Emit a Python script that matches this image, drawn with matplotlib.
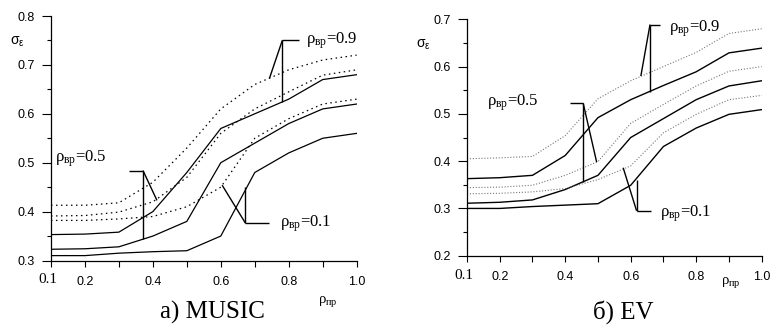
import matplotlib
matplotlib.use('Agg')
import matplotlib.pyplot as plt

plt.rcParams['mathtext.fontset'] = 'custom'
plt.rcParams['mathtext.rm'] = 'Liberation Serif'
plt.rcParams['mathtext.it'] = 'Liberation Serif'
plt.rcParams['mathtext.sf'] = 'Liberation Sans'
plt.rcParams['font.family'] = ['Liberation Sans', 'DejaVu Sans']

# rho_pr values
x = [0.1, 0.2, 0.3, 0.4, 0.5, 0.6, 0.7, 0.8, 0.9, 1.0]

# a) MUSIC
music_solid_hi = [0.353, 0.354, 0.358, 0.40, 0.48, 0.57, 0.60, 0.63, 0.67, 0.68]
music_solid_mid = [0.323, 0.324, 0.328, 0.35, 0.38, 0.50, 0.54, 0.58, 0.61, 0.62]
music_solid_lo = [0.31, 0.31, 0.315, 0.318, 0.32, 0.35, 0.48, 0.52, 0.55, 0.56]
music_dot_hi = [0.413, 0.413, 0.418, 0.46, 0.53, 0.61, 0.66, 0.69, 0.71, 0.72]
music_dot_mid = [0.391, 0.392, 0.399, 0.42, 0.47, 0.56, 0.61, 0.645, 0.679, 0.69]
music_dot_lo = [0.382, 0.382, 0.385, 0.39, 0.41, 0.45, 0.55, 0.59, 0.62, 0.63]

# б) EV
ev_solid_hi = [0.363, 0.365, 0.370, 0.412, 0.492, 0.53, 0.56, 0.589, 0.629, 0.639]
ev_solid_mid = [0.311, 0.313, 0.318, 0.34, 0.37, 0.45, 0.49, 0.53, 0.559, 0.57]
ev_solid_lo = [0.30, 0.30, 0.304, 0.307, 0.31, 0.349, 0.431, 0.47, 0.499, 0.509]
ev_dot_hi = [0.405, 0.407, 0.410, 0.454, 0.532, 0.57, 0.60, 0.63, 0.67, 0.68]
ev_dot_mid = [0.344, 0.345, 0.349, 0.37, 0.399, 0.48, 0.52, 0.559, 0.59, 0.60]
ev_dot_lo = [0.331, 0.332, 0.335, 0.342, 0.361, 0.39, 0.46, 0.499, 0.53, 0.539]

labels = ['ρ$_{\\mathrm{вр}}$=0.9', 'ρ$_{\\mathrm{вр}}$=0.5', 'ρ$_{\\mathrm{вр}}$=0.1']

# label position + leader lines (knee, end of diagonal, end of vertical, end of horizontal)
music_notes = [((0.852, 0.75), (0.781, 0.75), (0.743, 0.672), (0.781, 0.624), (0.829, 0.75)),
               ((0.112, 0.508), (0.371, 0.484), (0.412, 0.423), (0.371, 0.345), (0.329, 0.484)),
               ((0.773, 0.376), (0.672, 0.377), (0.604, 0.454), (0.672, 0.45), (0.743, 0.377))]
ev_notes = [((0.717, 0.68), (0.659, 0.689), (0.631, 0.58), (0.659, 0.547), (0.689, 0.689)),
            ((0.16, 0.523), (0.455, 0.522), (0.496, 0.398), (0.455, 0.356), (0.415, 0.522)),
            ((0.689, 0.288), (0.618, 0.295), (0.577, 0.386), (0.618, 0.361), (0.661, 0.295))]

fig = plt.figure(figsize=(7.71, 3.26), dpi=100)
ax1 = fig.add_axes([0.0661, 0.2009, 0.3965, 0.75])
ax2 = fig.add_axes([0.6057, 0.2156, 0.3822, 0.7252])


def setup(ax, ylo, yhi, lab_y, sig_xy):
    for s in ['top', 'right']:
        ax.spines[s].set_visible(False)
    for s in ['left', 'bottom']:
        ax.spines[s].set_linewidth(0.9)
    ax.set_xlim(0.1, 1.0)
    ax.set_ylim(ylo, yhi)
    ax.set_xticks(x)
    ax.set_xticklabels(['', '0.2', '', '0.4', '', '0.6', '', '0.8', '', '1.0'], fontsize=9)
    yt = [round(ylo + 0.1 * i, 1) for i in range(int(round((yhi - ylo) / 0.1)) + 1)]
    ax.set_yticks(yt)
    ax.set_yticklabels(['%.1f' % v for v in yt], fontsize=9)
    ax.set_yticks([round(v + 0.05, 2) for v in yt[:-1]], minor=True)
    ax.tick_params(axis='x', direction='out', length=4, width=0.8, pad=7)
    ax.tick_params(axis='y', which='major', direction='out', length=6.5, width=0.8, pad=5)
    ax.tick_params(axis='y', which='minor', direction='out', length=3, width=0.8)
    ax.annotate('0.1', xy=(0.1, 0), xycoords=('data', 'axes fraction'),
                xytext=(-2, -14), textcoords='offset points', ha='center', va='center',
                fontsize=11, fontfamily='Liberation Serif')
    ax.text(lab_y[0], lab_y[1], 'ρ$_{\\mathrm{пр}}$', transform=ax.transAxes,
            ha='center', va='center', fontsize=10.5, fontfamily='Liberation Serif')
    ax.text(sig_xy[0], sig_xy[1], 'σ$_{\\mathsf{ε}}$', transform=ax.transAxes,
            ha='center', va='center', fontsize=10, fontfamily='Liberation Sans')


def notes(ax, specs):
    for lab, (pos, knee, diag, vert, horz) in zip(labels, specs):
        ax.text(pos[0], pos[1], lab, ha='left', va='center', fontsize=12,
                fontfamily='Liberation Serif')
        for end in (diag, vert, horz):
            ax.plot([knee[0], end[0]], [knee[1], end[1]], color='black', lw=1.0,
                    solid_capstyle='butt')


setup(ax1, 0.3, 0.8, (0.905, -0.166), (-0.111, 0.894))
for ys in (music_solid_hi, music_solid_mid, music_solid_lo):
    ax1.plot(x, ys, color='black', lw=0.9)
for ys in (music_dot_hi, music_dot_mid, music_dot_lo):
    ax1.plot(x, ys, color='black', lw=0.9, linestyle=(0, (1.2, 2.8)))
notes(ax1, music_notes)

setup(ax2, 0.2, 0.7, (0.895, -0.115), (-0.149, 0.891))
for ys in (ev_solid_hi, ev_solid_mid, ev_solid_lo):
    ax2.plot(x, ys, color='black', lw=1.0)
for ys in (ev_dot_hi, ev_dot_mid, ev_dot_lo):
    ax2.plot(x, ys, color='#777777', lw=0.8, linestyle=(0, (1, 1.6)))
notes(ax2, ev_notes)

fig.text(0.276, 0.022, 'а) MUSIC', ha='center', va='baseline', fontsize=18,
         fontfamily='Liberation Serif')
fig.text(0.808, 0.022, 'б) EV', ha='center', va='baseline', fontsize=18,
         fontfamily='Liberation Serif')

fig.savefig('out.png', dpi=100)
